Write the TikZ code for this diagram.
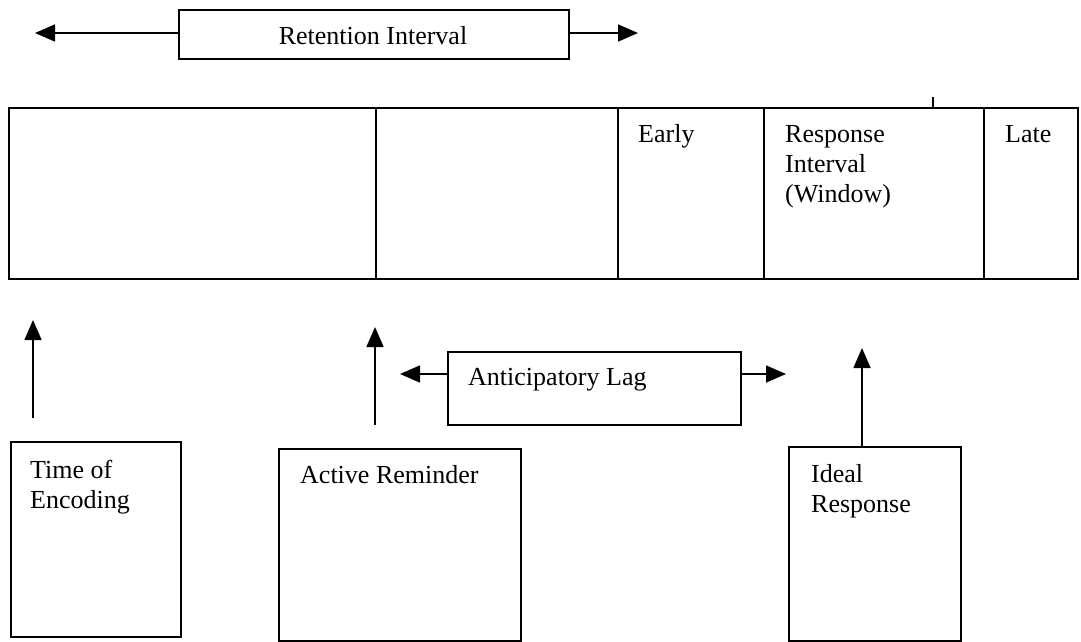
\documentclass[tikz,border=0pt]{standalone}
\usepackage{fontspec}
\setmainfont{Liberation Serif}
\usetikzlibrary{arrows.meta}
\begin{document}
\begin{tikzpicture}[x=1pt,y=-1pt,
  box/.style={draw,line width=1.6pt,rectangle,inner sep=0pt,anchor=north west},
  lbl/.style={anchor=base west,inner sep=0pt,font=\fontsize{26}{30}\selectfont},
  mlbl/.style={lbl,align=left,anchor=north west},
  arr/.style={line width=1.6pt,-{Triangle[length=20pt,width=17pt]}},
  ln/.style={line width=1.6pt}]
\useasboundingbox (0,0) rectangle (1081,642);
% retention interval
\node[box,minimum width=390pt,minimum height=49pt] (ret) at (178,9) {};
\node[lbl,anchor=base] (rett) at (373,45) {Retention Interval};
\coordinate (retL) at (35,33);
\coordinate (retR) at (638,33);
\draw[arr] (ret.west |- retL) -- (retL);
\draw[arr] (ret.east |- retR) -- (retR);
% main timeline
\node[box,minimum width=367pt,minimum height=171pt] (s1) at (8,107) {};
\node[box,minimum width=242pt,minimum height=171pt] (s2) at (375,107) {};
\node[box,minimum width=146pt,minimum height=171pt] (early) at (617,107) {};
\node[box,minimum width=220pt,minimum height=171pt] (resp) at (763,107) {};
\node[box,minimum width=94pt,minimum height=171pt] (late) at (983,107) {};
\node[lbl] (earlyt) at (638,142) {Early};
\node[mlbl] (respt) at (785,125) {Response\\Interval\\(Window)};
\node[lbl] (latet) at (1005,142) {Late};
\coordinate (tick) at (933,97);
\draw[ln] (tick) -- (tick |- resp.north);
% lower boxes
\node[box,minimum width=170pt,minimum height=195pt] (enc) at (10,441) {};
\node[mlbl] (enct) at (30,460) {Time of\\Encoding};
\node[box,minimum width=242pt,minimum height=192pt] (rem) at (278,448) {};
\node[lbl] (remt) at (300,483) {Active Reminder};
\node[box,minimum width=172pt,minimum height=194pt] (ideal) at (788,446) {};
\node[mlbl] (idealt) at (811,464) {Ideal\\Response};
% anticipatory lag
\node[box,minimum width=293pt,minimum height=73pt] (lag) at (447,351) {};
\node[lbl] (lagt) at (468,385) {Anticipatory Lag};
\coordinate (lagL) at (400,374);
\coordinate (lagR) at (786,374);
\draw[arr] (lag.west |- lagL) -- (lagL);
\draw[arr] (lag.east |- lagR) -- (lagR);
% up arrows
\coordinate (a1s) at (33,418);
\coordinate (a1e) at (33,320);
\coordinate (a2s) at (375,425);
\coordinate (a2e) at (375,327);
\coordinate (a3e) at (862,348);
\draw[arr] (a1s) -- (a1e);
\draw[arr] (a2s) -- (a2e);
\draw[arr] (ideal.north -| a3e) -- (a3e);
\end{tikzpicture}
\end{document}
